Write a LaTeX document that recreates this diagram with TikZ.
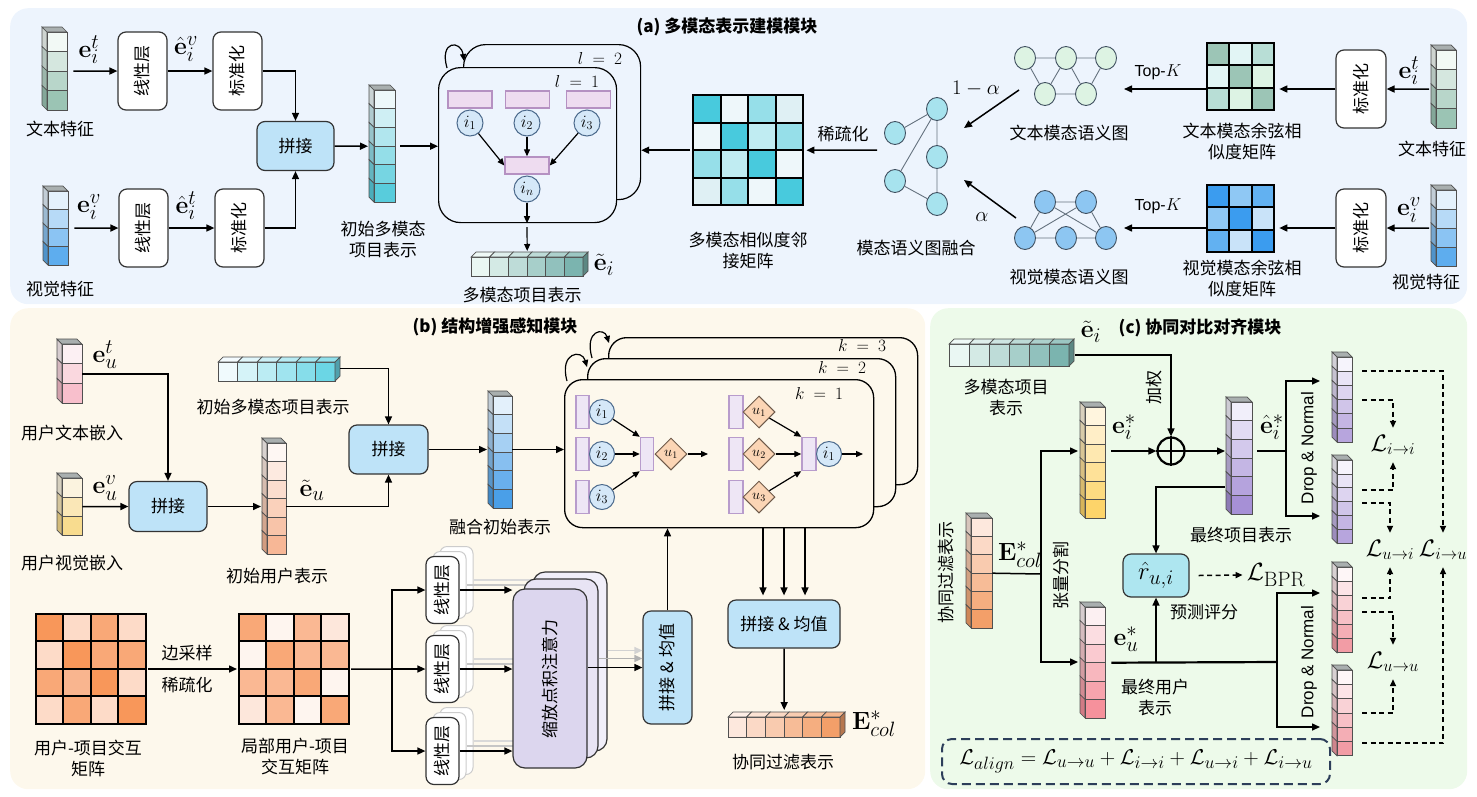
\documentclass[tikz,border=0pt]{standalone}
\usepackage[no-math]{fontspec}
\setmainfont{Liberation Serif}
\setsansfont{Liberation Sans}
\newfontfamily\cjk{Noto Sans CJK SC}
\usetikzlibrary{arrows.meta,calc,shapes.geometric}
% panel and box colours
\definecolor{panA}{HTML}{EDF4FD}
\definecolor{panB}{HTML}{FDF8EC}
\definecolor{panC}{HTML}{EDFAEA}
\definecolor{boxline}{HTML}{333333}
\definecolor{catblue}{HTML}{BEE3F8}
\definecolor{vline}{HTML}{505050}
\definecolor{vtop}{HTML}{A9AFAF}
\definecolor{prf}{HTML}{EEDCF0}
\definecolor{prb}{HTML}{B591C2}
\definecolor{prf2}{HTML}{EEE6F5}
\definecolor{prb2}{HTML}{B89CCC}
\definecolor{cf}{HTML}{D5E8F8}
\definecolor{cb}{HTML}{4C6A8C}
\definecolor{df}{HTML}{FBD5B5}
\definecolor{db}{HTML}{6E5A4A}
\definecolor{gng}{HTML}{DDF3E3}
\definecolor{gnb}{HTML}{8DC6F2}
\definecolor{gnc}{HTML}{A7E3EE}
\definecolor{gnl}{HTML}{3F4F5F}
\definecolor{at1}{HTML}{DCD6EE}
\definecolor{at2}{HTML}{E8E4F4}
\definecolor{at3}{HTML}{F1EFFA}
\definecolor{rcyan}{HTML}{AEE6F0}
\definecolor{navy}{HTML}{2D3E5A}
% vector gradients
\definecolor{tA1}{HTML}{F2F9F5}\definecolor{tA2}{HTML}{9BC4B4}
\definecolor{vA1}{HTML}{E4F1FC}\definecolor{vA2}{HTML}{5EADEE}
\definecolor{cyA1}{HTML}{EDF8FA}\definecolor{cyA2}{HTML}{58CCDC}
\definecolor{teA1}{HTML}{EAF7F3}\definecolor{teA2}{HTML}{7BB4AF}
\definecolor{pk1}{HTML}{FCF0F3}\definecolor{pk2}{HTML}{F8BFCC}
\definecolor{ye1}{HTML}{FBF3DF}\definecolor{ye2}{HTML}{F8DC8F}
\definecolor{pe1}{HTML}{FEF7F3}\definecolor{pe2}{HTML}{F7B796}
\definecolor{cyB1}{HTML}{F0FAFD}\definecolor{cyB2}{HTML}{6BD6E5}
\definecolor{bl1}{HTML}{E3F0FB}\definecolor{bl2}{HTML}{4A9FE8}
\definecolor{or1}{HTML}{FDE8DD}\definecolor{or2}{HTML}{F39F69}
\definecolor{ye3}{HTML}{FFF5DE}\definecolor{ye4}{HTML}{FDD46A}
\definecolor{pu1}{HTML}{F1EFFA}\definecolor{pu2}{HTML}{A690D6}
\definecolor{pu3}{HTML}{F6F4FC}\definecolor{pu4}{HTML}{B7A5DD}
\definecolor{pk3}{HTML}{FCF0F2}\definecolor{pk4}{HTML}{F6919C}
\definecolor{pk5}{HTML}{FEF6F7}\definecolor{pk6}{HTML}{F29CA5}
% matrix colours
\definecolor{mc1}{HTML}{48CADD}\definecolor{mc2}{HTML}{EEF7FA}\definecolor{mc3}{HTML}{96DFE9}
\definecolor{mc4}{HTML}{DFF0F4}\definecolor{mc5}{HTML}{C0ECF2}
\definecolor{tc1}{HTML}{9CC5B6}\definecolor{tc2}{HTML}{E2F5F5}\definecolor{tc3}{HTML}{B8DED6}\definecolor{tc4}{HTML}{DDF3E4}
\definecolor{bc1}{HTML}{3B9CEF}\definecolor{bc2}{HTML}{8FC8F4}\definecolor{bc3}{HTML}{62B1F1}\definecolor{bc4}{HTML}{C9E3F9}
\definecolor{o1}{HTML}{F8975A}\definecolor{o2}{HTML}{FDDBC8}\definecolor{o3}{HTML}{F9A877}\definecolor{o4}{HTML}{F9B58F}
\definecolor{o5}{HTML}{FEF5EF}\definecolor{o6}{HTML}{FDE7DB}\definecolor{o7}{HTML}{FAB893}

% vertical 3D vector: name, x, y, cell w, cell h, n, start colour, end colour
\newcommand{\vvec}[8]{%
  \foreach \k in {1,...,#6}{%
    \pgfmathsetmacro\pc{100*(\k-1)/(#6-1)}%
    \colorlet{cc}{#8!\pc!#7}%
    \filldraw[fill=cc!85!black, draw=vline, line width=0.7] (#2,{#3+(\k-1)*#5}) -- ++(-5,-5) -- ++(0,#5) -- ++(5,5) -- cycle;
    \filldraw[fill=cc, draw=vline, line width=0.7] (#2,{#3+(\k-1)*#5}) rectangle ++(#4,#5);
  }%
  \filldraw[fill=vtop, draw=vline, line width=0.7] (#2,#3) -- ++(-5,-5) -- ++(#4,0) -- ++(5,5) -- cycle;
  \node[inner sep=0pt, minimum width=#4, minimum height={#6*#5}, anchor=north west] (#1) at (#2,#3) {};
}
% horizontal 3D vector
\newcommand{\hvec}[8]{%
  \foreach \k in {1,...,#6}{%
    \pgfmathsetmacro\pc{100*(\k-1)/(#6-1)}%
    \colorlet{cc}{#8!\pc!#7}%
    \filldraw[fill=cc, draw=vline, line width=0.7] ({#2+(\k-1)*#4},#3) rectangle ++(#4,#5);
    \filldraw[fill=cc!75!white, draw=vline, line width=0.7] ({#2+(\k-1)*#4},#3) -- ++(5,-5) -- ++(#4,0) -- ++(-5,5) -- cycle;
  }%
  \filldraw[fill=#8!75!black, draw=vline, line width=0.7] ({#2+#6*#4},#3) -- ++(5,-5) -- ++(0,#5) -- ++(-5,5) -- cycle;
  \node[inner sep=0pt, minimum width={#6*#4}, minimum height=#5, anchor=north west] (#1) at (#2,#3) {};
}
% matrix: name, x, y, cell, n, colours
\newcommand{\matr}[6]{%
  \foreach \mc [count=\mk from 0] in {#6}{%
    \pgfmathtruncatemacro\rr{floor(\mk/#5)}%
    \pgfmathtruncatemacro\cl{mod(\mk,#5)}%
    \fill[\mc] ({#2+\cl*#4},{#3+\rr*#4}) rectangle ++(#4,#4);
  }%
  \foreach \j in {0,...,#5}{%
    \draw[line width=2, line cap=rect] ({#2+\j*#4},#3) -- ++(0,{#5*#4});
    \draw[line width=2, line cap=rect] (#2,{#3+\j*#4}) -- ++({#5*#4},0);
  }%
  \node[inner sep=0pt, minimum size={#5*#4}, anchor=north west] (#1) at (#2,#3) {};
}

\begin{document}
\begin{tikzpicture}[x=1pt,y=-1pt,
  lab/.style={font=\cjk\fontsize{17}{21}\selectfont, align=center, inner sep=1pt},
  ttl/.style={font=\cjk\bfseries\fontsize{17}{20}\selectfont, inner sep=1pt},
  mlab/.style={font=\fontsize{24.88}{28}\selectfont, inner sep=0pt},
  mathsm/.style={font=\fontsize{17.28}{21}\selectfont, inner sep=0pt},
  sanslab/.style={font=\sffamily\fontsize{16}{19}\selectfont, inner sep=0pt},
  wbox/.style={draw=boxline, fill=white, rounded corners=8pt, line width=1.2pt, inner sep=0pt, font=\cjk\fontsize{17}{20}\selectfont},
  bbox/.style={draw=boxline, fill=catblue, rounded corners=8pt, line width=1.2pt, inner sep=0pt, font=\cjk\fontsize{17}{20}\selectfont},
  gbox/.style={draw=black, line width=1.2pt, rounded corners=22pt, inner sep=0pt},
  kbox/.style={draw=black, fill=panB, line width=1.3pt, rounded corners=18pt, inner sep=0pt},
  abox/.style={draw=boxline, line width=1.2pt, rounded corners=12pt, inner sep=0pt, minimum width=74, minimum height=179, font=\cjk\fontsize{17}{20}\selectfont},
  ghost/.style={draw=gray!40, fill=white, rounded corners=7pt, line width=1pt, minimum width=33, minimum height=67},
  prect/.style={draw=prb, fill=prf, line width=1.4pt, inner sep=0pt},
  trect/.style={draw=prb2, fill=prf2, line width=1.4pt, inner sep=0pt, minimum width=13, minimum height=33},
  icirc/.style={circle, draw=cb, fill=cf, line width=1pt, minimum size=26, inner sep=0pt, font=\fontsize{17.28}{17}\selectfont},
  udia/.style={diamond, aspect=1, draw=db, fill=df, line width=1pt, minimum size=32, inner sep=0pt, font=\fontsize{14.4}{15}\selectfont},
  gn/.style={ellipse, draw=gnl, line width=0.9pt, minimum width=21, minimum height=23, inner sep=0pt},
  ge/.style={draw=gnl!80, line width=0.9pt},
  arr/.style={-{Triangle[length=8pt,width=7pt]}, line width=1.5pt},
  sarr/.style={-{Triangle[length=7pt,width=6pt]}, line width=1.2pt},
  garr/.style={-{Triangle[length=8pt,width=7pt]}, line width=1.4pt},
  darr/.style={-{Triangle[length=7pt,width=6pt]}, line width=1.5pt, dash pattern=on 5pt off 3.5pt},
  Ll/.style={font=\fontsize{20.74}{24}\selectfont, inner sep=0pt, minimum height=34}
]
\useasboundingbox (0,0) rectangle (1477,796);

% ================= panels =================
\node[fill=panA, rounded corners=18pt, minimum width=1457, minimum height=296, anchor=north west, inner sep=0pt] (pA) at (10,8) {};
\node[fill=panB, rounded corners=18pt, minimum width=915, minimum height=481, anchor=north west, inner sep=0pt] (pB) at (10,308) {};
\node[fill=panC, rounded corners=18pt, minimum width=537, minimum height=481, anchor=north west, inner sep=0pt] (pC) at (930,308) {};

% ================= (a) =================
\node[ttl] (tA) at (727,27) {(a) 多模态表示建模模块};

\vvec{vta}{47}{32}{20}{19.5}{4}{tA1}{tA2}
\node[lab] (ltxt1) at (60,129) {文本特征};
\node[mlab] (eit1) at (89,50) {$\mathbf{e}_i^t$};
\node[wbox, minimum width=49, minimum height=78] (lin1) at (142.5,71) {\rotatebox{90}{线性层}};
\node[mlab] (ehv) at (186,49) {$\hat{\mathbf{e}}_i^v$};
\node[wbox, minimum width=49, minimum height=78] (nrm1) at (237.5,71) {\rotatebox{90}{标准化}};
\node[bbox, minimum width=77, minimum height=49] (cat1) at (295.5,146) {拼接};

\vvec{vva}{48}{191}{20}{18.5}{4}{vA1}{vA2}
\node[lab] (lvis1) at (60,289) {视觉特征};
\node[mlab] (eiv1) at (89,207) {$\mathbf{e}_i^v$};
\node[wbox, minimum width=49, minimum height=78] (lin2) at (143.5,228) {\rotatebox{90}{线性层}};
\node[mlab] (eht) at (186,206) {$\hat{\mathbf{e}}_i^t$};
\node[wbox, minimum width=49, minimum height=78] (nrm2) at (239.5,228) {\rotatebox{90}{标准化}};

\draw[arr] ($(vta.east)+(6,0)$) -- (lin1.west);
\draw[arr] (lin1.east) -- (nrm1.west);
\draw[arr] (nrm1.east) -| (cat1.north);
\draw[arr] ($(vva.east)+(6,0)$) -- (lin2.west);
\draw[arr] (lin2.east) -- (nrm2.west);
\draw[arr] (nrm2.east) -| (cat1.south);

\vvec{vin}{374}{90}{21}{18.67}{6}{cyA1}{cyA2}
\node[lab] (lvin) at (383,239) {初始多模态\\项目表示};
\draw[arr] (cat1.east) -- ($(vin.west)+(-6,0)$);

% GNN boxes
\node[gbox, minimum width=177, minimum height=155, anchor=north west] (gnn2) at (463,44) {};
\node[gbox, fill=panA, minimum width=178, minimum height=155, anchor=north west] (gnn1) at (438,67) {};
\draw[sarr] (447,68) .. controls (439,40) and (461,40) .. (464,61);
\node[mathsm] (l2) at (600,58) {$l\ =\ 2$};
\node[mathsm] (l1) at (577,81) {$l\ =\ 1$};
\draw[arr] ($(vin.east)+(5,0)$) -- (vin.east -| gnn1.west);

\node[prect, minimum width=44, minimum height=17] (ra1) at (470,99.5) {};
\node[prect, minimum width=44, minimum height=17] (ra2) at (527.5,99.5) {};
\node[prect, minimum width=44, minimum height=17] (ra3) at (588.5,99.5) {};
\node[icirc] (ia1) at (470,123) {$i_1$};
\node[icirc] (ia2) at (527,123) {$i_2$};
\node[icirc] (ia3) at (587,123) {$i_3$};
\node[prect, minimum width=44, minimum height=17] (ram) at (527,165.5) {};
\node[icirc] (ian) at (527,189) {$i_n$};
\draw[sarr] (ia1) -- (ram.west);
\draw[sarr] (ia2) -- (ram.north);
\draw[sarr] (ia3) -- (ram.east);
\draw[sarr] (ian) -- (ian |- gnn1.south);

\hvec{eto}{471}{257}{18.67}{19}{6}{teA1}{teA2}
\draw[sarr] ($(ian |- gnn1.south)+(0,4)$) -- ($(eto.north)+(0,-6)$);
\node[mlab] (etl) at (604,265) {$\tilde{\mathbf{e}}_i$};
\node[lab] (letl) at (522,295) {多模态项目表示};

% similarity matrix
\matr{mm}{693}{95}{27.5}{4}{mc1,mc2,mc3,mc4,mc2,mc1,mc5,mc3,mc3,mc5,mc1,mc2,mc4,mc3,mc2,mc1}
\node[lab] (lmm) at (748,251) {多模态相似度邻\\接矩阵};
\draw[arr] ($(mm.west)+(-3,0)$) -- (mm.west -| gnn2.east);
\node[lab] (lsp) at (843,134) {稀疏化};
\coordinate (fz) at (877,150);
\draw[arr] (fz) -- ($(mm.east)+(3,0)$);

% fused graph
\node[gn, fill=gnc] (f1) at (895,133) {};
\node[gn, fill=gnc] (f2) at (937,109) {};
\node[gn, fill=gnc] (f3) at (937,157) {};
\node[gn, fill=gnc] (f4) at (895,181) {};
\node[gn, fill=gnc] (f5) at (937,204) {};
\draw[ge] (f1) -- (f2) (f2) -- (f3) (f3) -- (f5) (f2) -- (f4) (f4) -- (f5);
\node[lab] (lfg) at (916,248) {模态语义图融合};

% text graph
\node[gn, fill=gng] (t1) at (1025,58) {};
\node[gn, fill=gng] (t2) at (1066,58) {};
\node[gn, fill=gng] (t3) at (1106,58) {};
\node[gn, fill=gng] (t4) at (1045,94) {};
\node[gn, fill=gng] (t5) at (1086,94) {};
\draw[ge] (t1) -- (t2) (t2) -- (t3) (t1) -- (t4) (t2) -- (t4) (t2) -- (t5) (t3) -- (t5) (t4) -- (t5);
\node[lab] (ltg) at (1069,133) {文本模态语义图};

% visual graph
\node[gn, fill=gnb] (v1) at (1045,202) {};
\node[gn, fill=gnb] (v2) at (1086,202) {};
\node[gn, fill=gnb] (v3) at (1025,238) {};
\node[gn, fill=gnb] (v4) at (1066,238) {};
\node[gn, fill=gnb] (v5) at (1106,238) {};
\draw[ge] (v1) -- (v2) (v1) -- (v3) (v1) -- (v5) (v2) -- (v3) (v2) -- (v5) (v3) -- (v4) (v4) -- (v5);
\node[lab] (lvg) at (1069,277) {视觉模态语义图};

\coordinate (ga1) at (1019,90);  \coordinate (ga1e) at (964,128);
\coordinate (ga2) at (1016,218); \coordinate (ga2e) at (964,180);
\draw[arr] (ga1) -- (ga1e);
\draw[arr] (ga2) -- (ga2e);
\node[mathsm, font=\fontsize{20.74}{22}\selectfont] (oma) at (976,89) {$1-\alpha$};
\node[mathsm, font=\fontsize{20.74}{22}\selectfont] (alp) at (982,217) {$\alpha$};

% cosine matrices
\matr{tcos}{1207}{43}{22.3}{3}{tc1,tc2,tc3,tc2,tc1,tc4,tc3,tc4,tc1}
\matr{vcos}{1207}{185}{22.3}{3}{bc1,bc2,bc3,bc2,bc1,bc4,bc3,bc4,bc1}
\node[lab] (ltc) at (1242,141) {文本模态余弦相\\似度矩阵};
\node[lab] (lvc) at (1242,278) {视觉模态余弦相\\似度矩阵};
\node[wbox, minimum width=50, minimum height=78] (nrm3) at (1361,89) {\rotatebox{90}{标准化}};
\node[wbox, minimum width=50, minimum height=78] (nrm4) at (1361,228) {\rotatebox{90}{标准化}};
\coordinate (tg) at (1124,0);
\draw[arr] (tcos.west |- nrm3.west) -- (tg |- nrm3.west);
\draw[arr] (vcos.west |- nrm4.west) -- (tg |- nrm4.west);
\node[sanslab] (tk1) at (1158,72) {Top-$K$};
\node[sanslab] (tk2) at (1158,206) {Top-$K$};
\draw[arr] (nrm3.west) -- ($(tcos.east |- nrm3.west)+(5,0)$);
\draw[arr] (nrm4.west) -- ($(vcos.east |- nrm4.west)+(5,0)$);

\vvec{vtr}{1436}{50}{20}{19.5}{4}{tA1}{tA2}
\vvec{vvr}{1436}{190}{20}{19}{4}{vA1}{vA2}
\node[mlab] (eit2) at (1409,71) {$\mathbf{e}_i^t$};
\node[mlab] (eiv2) at (1409,210) {$\mathbf{e}_i^v$};
\node[lab] (ltxt2) at (1432,149) {文本特征};
\node[lab] (lvis2) at (1426,282) {视觉特征};
\draw[arr] ($(vtr.west)+(-7,0)$) -- (nrm3.east);
\draw[arr] ($(vvr.west)+(-7,0)$) -- (nrm4.east);

% ================= (b) =================
\node[ttl] (tB) at (495,327) {(b) 结构增强感知模块};

\vvec{ut}{62}{344}{20}{19.7}{3}{pk1}{pk2}
\node[mlab] (eut) at (105,355) {$\mathbf{e}_u^t$};
\node[lab] (lut) at (72,433) {用户文本嵌入};
\vvec{uv}{62}{478}{20}{19}{3}{ye1}{ye2}
\node[mlab] (euv) at (105,488) {$\mathbf{e}_u^v$};
\node[lab] (luv) at (72,563) {用户视觉嵌入};
\node[bbox, minimum width=78, minimum height=50] (cat2) at (168,506.5) {拼接};
\draw[arr] (ut.east) -| (cat2.north);
\draw[arr] (uv.east) -- (cat2.west);

\vvec{ui}{267}{443}{19}{18.5}{6}{pe1}{pe2}
\node[mlab] (etu) at (312,490) {$\tilde{\mathbf{e}}_u$};
\node[lab] (lui) at (277,576) {初始用户表示};
\coordinate (uiw) at (261,0);
\draw[arr] (cat2.east) -- (cat2.east -| uiw);

\hvec{mmi}{218}{362}{19.5}{19}{6}{cyB1}{cyB2}
\node[lab] (lmmi) at (273,407) {初始多模态项目表示};
\node[bbox, minimum width=79, minimum height=49] (cat3) at (388.5,449.5) {拼接};
\draw[arr] ($(mmi.east)+(5,-3)$) -| (cat3.north);
\draw[arr] (ui.east |- cat2.east) -| (cat3.south);

\vvec{fv}{493}{396}{19}{18.67}{6}{bl1}{bl2}
\node[lab] (lfv) at (500,527) {融合初始表示};
\coordinate (fvw) at (487,0);
\draw[arr] (cat3.east) -- (cat3.east -| fvw);

% k boxes
\node[kbox, minimum width=309, minimum height=147, anchor=north west] (k3) at (608,337) {};
\node[kbox, minimum width=308, minimum height=148, anchor=north west] (k2) at (587,358) {};
\node[kbox, minimum width=309, minimum height=148, anchor=north west] (k1) at (564,379) {};
\draw[sarr] (567,381) .. controls (559,352) and (582,349) .. (587,367);
\draw[sarr] (592,358) .. controls (584,330) and (604,327) .. (609,343);
\node[mathsm] (kl3) at (862,345) {$k\ =\ 3$};
\node[mathsm] (kl2) at (842,367) {$k\ =\ 2$};
\node[mathsm] (kl1) at (819,393) {$k\ =\ 1$};
\draw[arr] (fv.east |- cat3.east) -- (cat3.east -| k1.west);

% k=1 content, left half
\node[trect] (r1a) at (582.5,412) {};
\node[trect] (r1b) at (582.5,454) {};
\node[trect] (r1c) at (582.5,497) {};
\node[icirc, minimum size=25] (c1a) at (602,412) {$i_1$};
\node[icirc, minimum size=25] (c1b) at (602,454) {$i_2$};
\node[icirc, minimum size=25] (c1c) at (602,497) {$i_3$};
\node[trect] (m1r) at (647,454) {};
\node[udia] (d1) at (671,454) {$u_1$};
\coordinate (d1e) at (708,454);
\draw[sarr] (c1a) -- (m1r.north west);
\draw[sarr] (c1b) -- (m1r.west);
\draw[sarr] (c1c) -- (m1r.south west);
\draw[sarr] (d1) -- (d1e);
% right half
\node[trect, minimum width=14] (r2a) at (736,412) {};
\node[trect, minimum width=14] (r2b) at (736,454) {};
\node[trect, minimum width=14] (r2c) at (736,497) {};
\node[udia] (d2a) at (759,412) {$u_1$};
\node[udia] (d2b) at (759,454) {$u_2$};
\node[udia] (d2c) at (759,497) {$u_3$};
\node[trect, minimum width=14] (m2r) at (809,454) {};
\node[icirc, minimum size=25] (cb1) at (829,454) {$i_1$};
\coordinate (cb1e) at (863,454);
\draw[sarr] (d2a) -- (m2r.north west);
\draw[sarr] (d2b) -- (m2r.west);
\draw[sarr] (d2c) -- (m2r.south west);
\draw[sarr] (cb1) -- (cb1e);

% bottom-left matrices
\matr{m1}{36}{614}{27.4}{4}{o1,o2,o3,o2,o2,o1,o3,o3,o3,o4,o1,o2,o2,o3,o2,o1}
\matr{m2}{239}{614}{27.4}{4}{o3,o5,o7,o6,o5,o3,o7,o7,o7,o7,o3,o5,o6,o7,o5,o3}
\node[lab] (lm1) at (88,758) {用户-项目交互\\矩阵};
\node[lab] (lm2) at (295,756) {局部用户-项目\\交互矩阵};
\node[lab] (les) at (187,653) {边采样};
\node[lab] (lsp2) at (187,685) {稀疏化};
\draw[arr] ($(m1.east)+(2,0)$) -- ($(m2.west)+(-2,0)$);

% linear layers with ghosts
\foreach \nm/\yy in {lb1/590, lb2/669, lb3/751}{
  \node[ghost] (\nm g2) at (456.5,\yy-10) {};
  \node[ghost] (\nm g1) at (449.5,\yy-5) {};
  \draw[draw=gray!30, line width=1.2pt] (\nm g2.east) -- ++(60,0);
  \draw[draw=gray!45, line width=1.2pt] (\nm g1.east) -- ++(60,0);
  \node[wbox, minimum width=33, minimum height=67] (\nm) at (442.5,\yy) {\rotatebox{90}{线性层}};
}
\coordinate (br) at (392,669);
\draw[line width=1.5pt] ($(m2.east)+(2,0)$) -- (br);
\draw[arr] (br) |- (lb1.west);
\draw[arr] (br) -- (lb2.west);
\draw[arr] (br) |- (lb3.west);

% attention boxes
\node[abox, fill=at3] (att3) at (570,661.5) {};
\node[abox, fill=at2] (att2) at (561,668.5) {};
\node[abox, fill=at1] (att1) at (550,678.5) {\rotatebox{90}{缩放点积注意力}};
\draw[arr] (lb1.east) -- (lb1.east -| att1.west);
\draw[arr] (lb2.east) -- (lb2.east -| att1.west);
\draw[arr] (lb3.east) -- (lb3.east -| att1.west);

\node[bbox, minimum width=49, minimum height=113] (catm) at (667.5,667.5) {\rotatebox{90}{拼接 \& 均值}};
\draw[garr, draw=gray!35, fill=gray!35] ($(att3.east |- catm.west)+(0,-17)$) -- ($(catm.west)+(0,-17)$);
\draw[garr, draw=gray!60, fill=gray!60] ($(att2.east |- catm.west)+(0,-9)$) -- ($(catm.west)+(0,-9)$);
\draw[arr] (att1.east |- catm.west) -- (catm.west);
\draw[arr] (catm.north) -- (catm.north |- k1.south);

\node[bbox, minimum width=112, minimum height=48] (catmh) at (784,624) {拼接 \& 均值};
\foreach \dx in {-21,0,21}{
  \draw[arr] ($(k1.south -| catmh.north)+(\dx,0)$) -- ($(catmh.north)+(\dx,-4)$);
}
\hvec{ecol}{728}{717}{18.67}{20}{6}{or1}{or2}
\draw[arr] (catmh.south) -- ($(ecol.north)+(0,-7)$);
\node[mlab] (ecl) at (874,724) {$\mathbf{E}^*_{col}$};
\node[lab] (lecol) at (783,762) {协同过滤表示};

% ================= (c) =================
\node[ttl] (tC) at (1200,328) {(c) 协同对比对齐模块};
\hvec{etc}{949}{344}{20}{22}{6}{teA1}{teA2}
\node[mlab] (etcl) at (1091,332) {$\tilde{\mathbf{e}}_i$};
\node[lab] (letc) at (1006,397) {多模态项目\\表示};
\node[lab] (ljq) at (1154,387) {\rotatebox{90}{加权}};
\node[circle, draw=black, line width=2.2pt, minimum size=27, inner sep=0pt] (opl) at (1171,451) {};
\draw[line width=2.2pt] (opl.north) -- (opl.south) (opl.west) -- (opl.east);
\draw[arr] ($(etc.east)+(6,0)$) -| (opl.north);

\vvec{eis}{1085}{407}{20}{18.5}{6}{ye3}{ye4}
\node[mlab] (eisl) at (1124,427) {$\mathbf{e}_i^*$};
\draw[arr] ($(eis.east |- opl.west)+(6,0)$) -- (opl.west);

\vvec{pvf}{1231}{402}{21}{18.67}{6}{pu1}{pu2}
\coordinate (pvl) at ($(pvf.west)+(-6,0)$);
\draw[arr] (opl.east) -- (opl.east -| pvl);
\node[mlab] (ehs) at (1272,427) {$\hat{\mathbf{e}}_i^*$};
\node[lab] (lpvf) at (1241,535) {最终项目表示};

\vvec{sp1}{1337}{357}{15}{14.2}{6}{pu3}{pu4}
\vvec{sp2}{1337}{460}{15}{13.9}{6}{pu3}{pu4}
\vvec{sk1}{1337}{567}{15}{14.3}{6}{pk5}{pk6}
\vvec{sk2}{1337}{670}{15}{14.3}{6}{pk5}{pk6}

\coordinate (dn1) at (1286,451);
\coordinate (da1) at (1320,381);
\coordinate (da2) at (1320,516);
\draw[line width=1.5pt] ($(pvf.east |- opl.east)+(5,0)$) -- (dn1);
\draw[arr] (dn1) |- (da1);
\draw[arr] (dn1) |- (da2);
\node[sanslab, rotate=90, font=\sffamily\fontsize{17}{20}\selectfont] (dn1l) at (1309,448) {Drop \& Normal};

\vvec{ecv}{971}{518}{21}{18.33}{6}{or1}{or2}
\node[lab, rotate=90] (lecv) at (946,572) {协同过滤表示};
\node[mlab] (ecvl) at (1020,555) {$\mathbf{E}^*_{col}$};
\node[lab, rotate=90] (lzl) at (1061,575) {张量分割};
\coordinate (sp) at (1041,574);
\coordinate (ta1) at (1078,451);
\coordinate (ta2) at (1078,662);
\draw[line width=1.5pt] (ecv.east) -- (sp);
\draw[arr] (sp) |- (ta1);
\draw[arr] (sp) |- (ta2);

\vvec{eus}{1085}{607}{20}{18.5}{6}{pk3}{pk4}
\node[mlab] (eusl) at (1126,639) {$\mathbf{e}_u^*$};
\node[lab] (leus) at (1155,697) {最终用户\\表示};
\node[draw=boxline, fill=rcyan, rounded corners=8pt, line width=1.2pt, minimum width=66, minimum height=43, inner sep=0pt, font=\fontsize{24.88}{28}\selectfont] (rh) at (1156,575.5) {$\hat{r}_{u,i}$};
\node[lab] (lrh) at (1204,612) {预测评分};
\node[mlab] (lbpr) at (1276,575) {$\mathcal{L}_{\mathrm{BPR}}$};
\draw[darr] ($(rh.east)+(9,0)$) -- ($(lbpr.west)+(-4,0)$);

\coordinate (pvo) at (1225,487);
\draw[arr] (pvo) -| (rh.north);

\coordinate (eh) at (1277,662);
\coordinate (da3) at (1320,593);
\coordinate (da4) at (1320,727);
\draw[line width=2.2pt] ($(eus.east)+(6,0)$) -- (eh);
\draw[arr] (rh.south |- eh) -- (rh.south);
\draw[arr] (eh) |- (da3);
\draw[arr] (eh) |- (da4);
\node[sanslab, rotate=90, font=\sffamily\fontsize{17}{20}\selectfont] (dn2l) at (1309,662) {Drop \& Normal};

% loss labels
\node[Ll] (Lii) at (1393,445) {\scalebox{1.15}{$\mathcal{L}_{i\to i}$}};
\node[Ll] (Lui) at (1390,550) {\scalebox{1.15}{$\mathcal{L}_{u\to i}$}};
\node[Ll] (Liu) at (1443,550) {\scalebox{1.15}{$\mathcal{L}_{i\to u}$}};
\node[Ll] (Luu) at (1393,662) {\scalebox{1.15}{$\mathcal{L}_{u\to u}$}};
\coordinate (s1a) at (1362,371);
\coordinate (s1b) at (1362,400);
\coordinate (s2a) at (1362,490);
\coordinate (s2b) at (1362,503);
\coordinate (k1a) at (1362,598);
\coordinate (k1b) at (1362,612);
\coordinate (k2a) at (1362,713);
\coordinate (k2b) at (1362,743);
\draw[darr] (s1a) -| (Liu.north);
\draw[darr] (s1b) -| (Lii.north);
\draw[darr] (s2a) -| (Lii.south);
\draw[darr] (s2b) -| (Lui.north);
\draw[darr] (k1a) -| (Lui.south);
\draw[darr] (k1b) -| (Luu.north);
\draw[darr] (k2a) -| (Luu.south);
\draw[darr] (k2b) -| (Liu.south);

\node[draw=navy, dash pattern=on 9pt off 5pt, line width=2pt, rounded corners=10pt, minimum width=388, minimum height=45, anchor=north west, inner sep=0pt, font=\fontsize{24.88}{28}\selectfont] (lal) at (941,738) {\scalebox{0.86}{$\mathcal{L}_{align}=\mathcal{L}_{u\to u}+\mathcal{L}_{i\to i}+\mathcal{L}_{u\to i}+\mathcal{L}_{i\to u}$}};

\end{tikzpicture}
\end{document}
